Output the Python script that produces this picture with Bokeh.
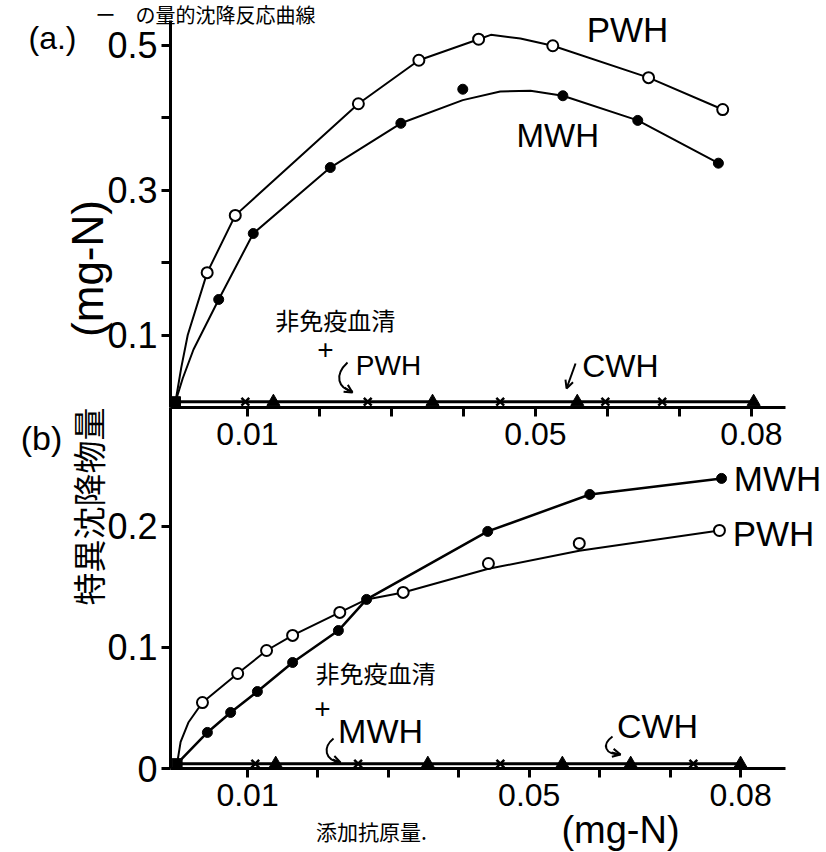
from bokeh.plotting import figure
from bokeh.models import Range1d, FixedTicker, Label, Arrow, OpenHead
from bokeh.layouts import column
from bokeh.embed import file_html
from bokeh.resources import INLINE

# ---------------- data ----------------
# panel (a)
a_pwh_x = [0.0044, 0.0083, 0.0254, 0.0338, 0.0421, 0.0524, 0.0657, 0.0760]
a_pwh_y = [0.186, 0.265, 0.419, 0.479, 0.508, 0.499, 0.455, 0.411]
a_mwh_x = [0.0060, 0.0108, 0.0215, 0.0313, 0.0399, 0.0538, 0.0642, 0.0754]
a_mwh_y = [0.149, 0.240, 0.331, 0.392, 0.439, 0.430, 0.396, 0.337]
# hand-drawn fitted curves (vertices)
a_pwh_curve_x = [0.0, 0.0008, 0.0017, 0.0044, 0.0083, 0.0254, 0.0338, 0.0421, 0.0438, 0.0479, 0.0524, 0.0657, 0.0760]
a_pwh_curve_y = [0.008, 0.055, 0.100, 0.186, 0.265, 0.419, 0.479, 0.508, 0.514, 0.509, 0.499, 0.455, 0.411]
a_mwh_curve_x = [0.0, 0.0010, 0.0025, 0.0060, 0.0108, 0.0215, 0.0313, 0.0399, 0.0451, 0.0493, 0.0538, 0.0642, 0.0754]
a_mwh_curve_y = [0.008, 0.040, 0.080, 0.149, 0.240, 0.331, 0.392, 0.424, 0.436, 0.437, 0.430, 0.396, 0.337]
# controls: non-immune serum + PWH (x) and CWH (triangles)
a_ctrl_x_x = [0.0097, 0.0267, 0.0451, 0.0597, 0.0676]
a_ctrl_x_y = [0.008, 0.008, 0.008, 0.008, 0.008]
a_cwh_x = [0.0136, 0.0357, 0.0558, 0.0803]
a_cwh_y = [0.008, 0.008, 0.008, 0.008]
a_origin_x = [0.0]
a_origin_y = [0.008]

# panel (b)
b_pwh_x = [0.0036, 0.0086, 0.0127, 0.0164, 0.0231, 0.0321, 0.0442, 0.0571, 0.0770]
b_pwh_y = [0.0545, 0.0785, 0.0975, 0.110, 0.129, 0.1455, 0.1694, 0.186, 0.1967]
b_mwh_x = [0.0043, 0.0076, 0.0114, 0.0164, 0.0229, 0.0269, 0.0441, 0.0586, 0.0773]
b_mwh_y = [0.0298, 0.0463, 0.0636, 0.0876, 0.114, 0.1397, 0.1959, 0.2264, 0.2397]
b_pwh_curve_x = [0.0, 0.0005, 0.0016, 0.0036, 0.0086, 0.0127, 0.0164, 0.0231, 0.0269, 0.0321, 0.0442, 0.0571, 0.0770]
b_pwh_curve_y = [0.004, 0.022, 0.038, 0.0545, 0.0785, 0.0975, 0.110, 0.129, 0.1397, 0.1455, 0.165, 0.180, 0.1967]
b_mwh_curve_x = [0.0, 0.0043, 0.0076, 0.0114, 0.0164, 0.0229, 0.0269, 0.0441, 0.0586, 0.0773]
b_mwh_curve_y = [0.004, 0.0298, 0.0463, 0.0636, 0.0876, 0.114, 0.1397, 0.1959, 0.2264, 0.2397]
b_ctrl_x_x = [0.0111, 0.0257, 0.0459, 0.0733]
b_ctrl_x_y = [0.004, 0.004, 0.004, 0.004]
b_cwh_x = [0.0140, 0.0356, 0.0547, 0.0644, 0.0800]
b_cwh_y = [0.004, 0.004, 0.004, 0.004, 0.004]
b_origin_x = [0.0]
b_origin_y = [0.004]

x_major = [0.01, 0.05, 0.08]
x_minor = [0.02, 0.03, 0.04, 0.06, 0.07]
a_y_major = [0.1, 0.3, 0.5]
a_y_minor = [0.2, 0.4]
b_y_major = [0.0, 0.1, 0.2]

LATIN = "Liberation Sans"
CJK = "Noto Sans CJK JP"


def style_axes(p, xsize, ysize):
    p.grid.visible = False
    p.outline_line_color = None
    for ax in p.axis:
        ax.axis_line_width = 3
        ax.axis_line_color = "black"
        ax.major_tick_line_width = 3
        ax.minor_tick_line_width = 3
        ax.major_tick_in = 0
        ax.major_tick_out = 9
        ax.minor_tick_in = 0
        ax.minor_tick_out = 9
        ax.major_label_text_font = LATIN
        ax.major_label_text_color = "black"
    p.xaxis.major_label_text_font_size = xsize
    p.yaxis.major_label_text_font_size = ysize
    p.xaxis.major_label_standoff = 6
    p.yaxis.major_label_standoff = 4


def lab(p, x, y, text, size, font=LATIN, angle=0.0, baseline="middle", align="center"):
    p.add_layout(Label(x=x, y=y, text=text, text_font=font,
                       text_font_size=size, angle=angle, text_align=align,
                       text_baseline=baseline, text_color="black"))


def curly(p, bz, head):
    x0, y0, cx0, cy0, cx1, cy1, x1, y1 = bz
    p.bezier(x0=[x0], y0=[y0], cx0=[cx0], cy0=[cy0], cx1=[cx1], cy1=[cy1],
             x1=[x1], y1=[y1], line_color="black", line_width=2)
    xs, ys, xe, ye = head
    p.add_layout(Arrow(end=OpenHead(size=8, line_width=2, line_color="black"),
                       x_start=xs, y_start=ys, x_end=xe, y_end=ye,
                       line_width=2, line_color="black"))


# ---------------- panel (a) ----------------
pa = figure(width=826, height=462, title=None, output_backend="svg", toolbar_location=None,
            x_range=Range1d(-0.000694, 0.08472), y_range=Range1d(0.0, 0.5338),
            min_border_left=170, min_border_right=41, min_border_top=20, min_border_bottom=55)
pa.xaxis.ticker = FixedTicker(ticks=x_major, minor_ticks=x_minor)
pa.yaxis.ticker = FixedTicker(ticks=a_y_major, minor_ticks=a_y_minor)
style_axes(pa, "32px", "36px")

pa.line(a_pwh_curve_x, a_pwh_curve_y, line_color="black", line_width=2)
pa.line(a_mwh_curve_x, a_mwh_curve_y, line_color="black", line_width=2)
a_ctrl_line_x = sorted(a_origin_x + a_ctrl_x_x + a_cwh_x)
a_ctrl_line_y = [a_origin_y[0]] * len(a_ctrl_line_x)
pa.line(a_ctrl_line_x, a_ctrl_line_y, line_color="black", line_width=3)
pa.scatter(a_pwh_x, a_pwh_y, marker="circle", size=11, fill_color="white",
           line_color="black", line_width=2)
pa.scatter(a_mwh_x, a_mwh_y, marker="circle", size=10, fill_color="black", line_color="black")
pa.scatter(a_ctrl_x_x, a_ctrl_x_y, marker="x", size=11, line_color="black", line_width=2.5)
pa.scatter(a_cwh_x, a_cwh_y, marker="triangle", size=13, fill_color="black", line_color="black")
pa.scatter(a_origin_x, a_origin_y, marker="square", size=10, fill_color="black", line_color="black")

lab(pa, 0.0531, 0.3752, "MWH", "33px")
lab(pa, 0.0222, 0.1214, "非免疫血清", "24px", font=CJK)
lab(pa, 0.02083, 0.080, "+", "28px")
lab(pa, 0.02958, 0.0579, "PWH", "28px")
lab(pa, 0.0618, 0.0579, "CWH", "32px")
curly(pa, (0.02389, 0.0621, 0.02194, 0.0441, 0.02264, 0.0262, 0.02458, 0.0221),
      (0.02347, 0.0276, 0.02458, 0.0207))
pa.add_layout(Arrow(end=OpenHead(size=8, line_width=2, line_color="black"),
                    x_start=0.05556, y_start=0.0607, x_end=0.05431, y_end=0.0262,
                    line_width=2, line_color="black"))

# ---------------- panel (b) ----------------
pb = figure(width=826, height=445, title=None, output_backend="svg", toolbar_location=None,
            x_range=Range1d(-0.000937, 0.08638), y_range=Range1d(0.0, 0.2983),
            min_border_left=170, min_border_right=41, min_border_top=0, min_border_bottom=84,
            background_fill_color=None, border_fill_color=None, margin=(-55, 0, 0, 0))
pb.xaxis.ticker = FixedTicker(ticks=x_major, minor_ticks=x_minor)
pb.yaxis.ticker = FixedTicker(ticks=b_y_major, minor_ticks=[])
pb.yaxis.major_label_overrides = {0: "0"}
style_axes(pb, "32px", "36px")

pb.line(b_pwh_curve_x, b_pwh_curve_y, line_color="black", line_width=2)
pb.line(b_mwh_curve_x, b_mwh_curve_y, line_color="black", line_width=2.5)
b_ctrl_line_x = sorted(b_origin_x + b_ctrl_x_x + b_cwh_x)
b_ctrl_line_y = [b_origin_y[0]] * len(b_ctrl_line_x)
pb.line(b_ctrl_line_x, b_ctrl_line_y, line_color="black", line_width=3)
pb.scatter(b_pwh_x, b_pwh_y, marker="circle", size=11, fill_color="white",
           line_color="black", line_width=2)
pb.scatter(b_mwh_x, b_mwh_y, marker="circle", size=10, fill_color="black", line_color="black")
pb.scatter(b_ctrl_x_x, b_ctrl_x_y, marker="x", size=11, line_color="black", line_width=2.5)
pb.scatter(b_cwh_x, b_cwh_y, marker="triangle", size=13, fill_color="black", line_color="black")
pb.scatter(b_origin_x, b_origin_y, marker="square", size=10, fill_color="black", line_color="black")

lab(pb, 0.02817, 0.0793, "非免疫血清", "24px", font=CJK)
lab(pb, 0.02064, 0.0496, "+", "28px")
lab(pb, 0.02889, 0.0306, "MWH", "34px")
lab(pb, 0.06821, 0.0355, "CWH", "34px")
curly(pb, (0.02221, 0.0248, 0.02064, 0.0174, 0.02093, 0.0066, 0.0232, 0.0050),
      (0.02207, 0.0074, 0.0232, 0.0050))
curly(pb, (0.06182, 0.02645, 0.06026, 0.01983, 0.06068, 0.01157, 0.06296, 0.01157),
      (0.06168, 0.01322, 0.06296, 0.01157))

# ---------------- transparent page-sized overlay (own root) for texts outside the panels ----------------
po = figure(width=826, height=852, title=None, output_backend="svg", toolbar_location=None,
            x_range=Range1d(0, 826), y_range=Range1d(852, 0),
            x_axis_location=None, y_axis_location=None,
            min_border_left=0, min_border_right=0, min_border_top=0, min_border_bottom=0,
            background_fill_color=None, border_fill_color=None, outline_line_color=None,
            styles={"position": "absolute", "left": "0px", "top": "0px"})
po.grid.visible = False

lab(po, 205, 14, "ー　の量的沈降反応曲線", "20px", font=CJK)
lab(po, 52, 37, "(a.)", "32px")
lab(po, 627, 29, "PWH", "35px")
lab(po, 87, 268, "(mg-N)", "44px", angle=1.5707963)
lab(po, 41, 437, "(b)", "34px")
lab(po, 87, 506, "特異沈降物量", "33px", font=CJK, angle=1.5707963)
lab(po, 777, 478, "MWH", "35px")
lab(po, 773, 533, "PWH", "35px")
lab(po, 371, 830, "添加抗原量.", "21px", font=CJK)
lab(po, 620, 829, "(mg-N)", "38px")

layout = column(pa, pb, spacing=0)
open("out.html", "w").write(file_html([layout, po], INLINE))
